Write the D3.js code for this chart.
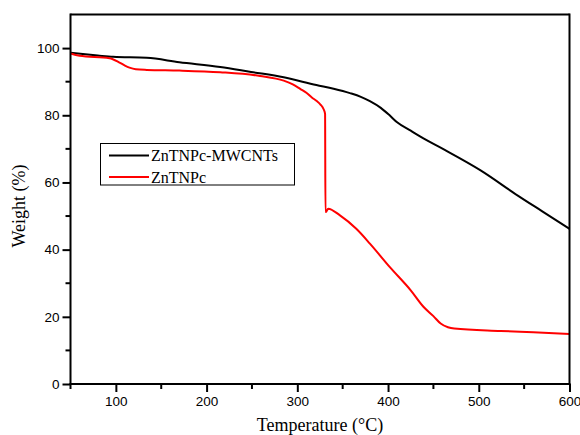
<!DOCTYPE html>
<html>
<head>
<meta charset="utf-8">
<script src="https://cdn.jsdelivr.net/npm/d3@7"></script>
<style>
  html, body { margin: 0; padding: 0; background: #fff; }
  svg { display: block; }
</style>
</head>
<body>
<svg id="chart" width="580" height="435"></svg>
<script>
// TGA curves: temperature (°C) vs. residual weight (%)
const seriesNames = ["ZnTNPc-MWCNTs", "ZnTNPc"];
const seriesColors = ["#000000", "#ff0000"];

const mwcntTemp   = [50, 80, 97, 134, 170, 215, 249, 285, 321, 340, 358, 370, 380, 392, 402, 410, 425, 439, 461, 502, 543, 570, 600];
const mwcntWeight = [98.6, 97.8, 97.4, 97.1, 95.8, 94.4, 92.9, 91.3, 89.0, 87.9, 86.6, 85.5, 84.2, 82.2, 79.9, 77.9, 75.4, 73.1, 69.9, 63.6, 56.1, 51.4, 46.2];

const pcTemp   = [50, 60, 93, 104, 110, 115, 122, 134, 170, 215, 259, 285, 295, 303.5, 310, 316, 321, 325.5, 329, 330.6, 331, 331.5, 334, 347, 365, 380, 402, 425, 439, 450, 458, 466, 473, 524, 560, 600];
const pcWeight = [98.4, 97.7, 97.0, 95.7, 94.8, 94.2, 93.7, 93.5, 93.3, 92.8, 91.7, 90.3, 89.2, 87.8, 86.7, 85.3, 84.3, 83.2, 81.8, 80.4, 51.2, 51.2, 52.2, 50.2, 46.2, 41.8, 34.8, 27.9, 23.0, 20.2, 18.0, 16.9, 16.5, 15.8, 15.4, 14.9];

const xTicks = [100, 200, 300, 400, 500, 600];
const xMinorTicks = [50, 150, 250, 350, 450, 550];
const yTicks = [0, 20, 40, 60, 80, 100];
const yMinorTicks = [10, 30, 50, 70, 90];

const svg = d3.select("#chart");
const plotLeft = 70.5, plotRight = 569.5, plotTop = 14.5, plotBottom = 384;

const x = d3.scaleLinear().domain([50, 600]).range([plotLeft, plotRight]);
const y = d3.scaleLinear().domain([0, 110]).range([plotBottom, plotTop]);

// plot series
const line = d3.line().x(d => x(d[0])).y(d => y(d[1])).curve(d3.curveMonotoneX);
const seriesData = [
  d3.zip(mwcntTemp, mwcntWeight),
  d3.zip(pcTemp, pcWeight)
];
seriesData.forEach((pts, i) => {
  svg.append("path")
    .datum(pts)
    .attr("d", line)
    .attr("fill", "none")
    .attr("stroke", seriesColors[i])
    .attr("stroke-width", 2)
    .attr("stroke-linejoin", "round");
});

// frame
svg.append("line").attr("x1", plotLeft).attr("x2", plotRight).attr("y1", plotTop).attr("y2", plotTop)
  .attr("stroke", "#000").attr("stroke-width", 2);
svg.append("line").attr("x1", plotRight).attr("x2", plotRight).attr("y1", plotTop - 1).attr("y2", plotBottom)
  .attr("stroke", "#000").attr("stroke-width", 2);

const tickFont = "Arial, 'Liberation Sans', sans-serif";

// bottom axis
const xAxis = svg.append("g").attr("transform", `translate(0,${plotBottom})`)
  .call(d3.axisBottom(x).tickValues(xTicks).tickSize(8).tickPadding(4).tickFormat(d3.format("d")));
xAxis.append("g").selectAll("line").data(xMinorTicks).join("line")
  .attr("x1", d => x(d)).attr("x2", d => x(d)).attr("y1", 0).attr("y2", 5)
  .attr("stroke", "#000").attr("stroke-width", 2);

// left axis
const yAxis = svg.append("g").attr("transform", `translate(${plotLeft},0)`)
  .call(d3.axisLeft(y).tickValues(yTicks).tickSize(8).tickPadding(3).tickFormat(d3.format("d")));
yAxis.append("g").selectAll("line").data(yMinorTicks).join("line")
  .attr("x1", 0).attr("x2", -5).attr("y1", d => y(d)).attr("y2", d => y(d))
  .attr("stroke", "#000").attr("stroke-width", 2);

[xAxis, yAxis].forEach(g => {
  g.select(".domain").attr("stroke", "#000").attr("stroke-width", 2);
  g.selectAll(".tick line").attr("stroke", "#000").attr("stroke-width", 2);
  g.selectAll(".tick text").attr("font-family", tickFont).attr("font-size", 13.5).attr("fill", "#000");
});
xAxis.select(".domain").attr("d", `M${plotLeft - 1},0H${plotRight + 1}`);
yAxis.select(".domain").attr("d", `M0,${plotBottom}V${plotTop - 1}`);

// axis titles
svg.append("text")
  .attr("x", 320).attr("y", 431)
  .attr("text-anchor", "middle")
  .attr("font-family", "'Times New Roman', 'Liberation Serif', serif")
  .attr("font-size", 18)
  .text("Temperature (°C)");

svg.append("text")
  .attr("transform", "translate(25,206) rotate(-90)")
  .attr("text-anchor", "middle")
  .attr("font-family", "'Times New Roman', 'Liberation Serif', serif")
  .attr("font-size", 18)
  .text("Weight (%)");

// legend
const legend = svg.append("g");
legend.append("rect")
  .attr("x", 100.5).attr("y", 143.5).attr("width", 194).attr("height", 41.5)
  .attr("fill", "#fff").attr("stroke", "#000").attr("stroke-width", 1);
seriesNames.forEach((name, i) => {
  const ly = 155.5 + i * 21.5;
  legend.append("line")
    .attr("x1", 109).attr("x2", 149).attr("y1", ly).attr("y2", ly)
    .attr("stroke", seriesColors[i]).attr("stroke-width", 2);
  legend.append("text")
    .attr("x", 151).attr("y", ly + 5.5)
    .attr("font-family", "'Times New Roman', 'Liberation Serif', serif")
    .attr("font-size", 16)
    .text(name);
});
</script>
</body>
</html>
